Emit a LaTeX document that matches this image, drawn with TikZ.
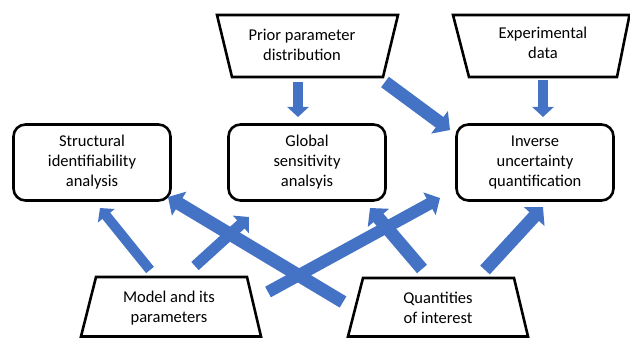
\documentclass[tikz,border=0pt]{standalone}
\usepackage{fontspec}
\setmainfont{Carlito}
\usetikzlibrary{arrows.meta}
\definecolor{barrowc}{HTML}{4472C4}
\begin{document}
\begin{tikzpicture}[x=1pt,y=-1pt,
  box/.style={draw, line width=2.6pt, rounded corners=12pt, minimum width=157pt, minimum height=76pt, align=center, font=\fontsize{16.5}{20}\selectfont, inner sep=0pt},
  txt/.style={align=center, font=\fontsize{16.5}{20}\selectfont, inner sep=0pt},
  trap/.style={draw, line width=2.6pt, line join=miter},
  blk/.style={draw=barrowc, line width=#1pt, -{Triangle[width=0pt 2.1, length=0pt 1]}},
]
\useasboundingbox (0,0) rectangle (630,339);

% boxes
\node[box] (sia) at (92,162.5) {Structural\\identifiability\\analysis};
\node[box] (gsa) at (307,162.5) {Global\\sensitivity\\analsyis};
\node[box] (iuq) at (535,162.5) {Inverse\\uncertainty\\quantification};

% trapezoids
\draw[trap] (217,15) -- (398,15) -- (383,77) -- (232,77) -- cycle;
\node[txt] (prior) at (302,45) {Prior parameter\\distribution};
\draw[trap] (453,15) -- (629.5,15) -- (617,77) -- (469,77) -- cycle;
\node[txt] (exp) at (543,43) {Experimental\\data};
\draw[trap] (96,277) -- (247,277) -- (261,336.5) -- (81,336.5) -- cycle;
\node[txt] (model) at (169,308) {Model and its\\parameters};
\draw[trap] (363,278) -- (514,278) -- (528,336.5) -- (348,336.5) -- cycle;
\node[txt] (qoi) at (438,308) {Quantities\\of interest};

% arrow end points
\coordinate (p1) at (298,82);  \coordinate (g1) at (298,117);
\coordinate (e1) at (543,80);  \coordinate (i1) at (543,117);
\coordinate (p2) at (385,82);  \coordinate (i2) at (450,130);
\coordinate (m1) at (150,270); \coordinate (s1) at (100,208);
\coordinate (m2) at (195,266); \coordinate (g2) at (249,217);
\coordinate (m3) at (268,292); \coordinate (i3) at (440,198);
\coordinate (q1) at (343,302); \coordinate (s2) at (168,197);
\coordinate (q2) at (422,269); \coordinate (g3) at (370,208);
\coordinate (q3) at (485,270); \coordinate (i4) at (543,207);

\draw[blk=10] (p1) -- (g1);
\draw[blk=10] (e1) -- (i1);
\draw[blk=13] (p2) -- (i2);
\draw[blk=10] (m1) -- (s1);
\draw[blk=13] (q1) -- (s2);
\draw[blk=12] (m3) -- (i3);
\draw[blk=11] (m2) -- (g2);
\draw[blk=13] (q2) -- (g3);
\draw[blk=13] (q3) -- (i4);
\end{tikzpicture}
\end{document}
